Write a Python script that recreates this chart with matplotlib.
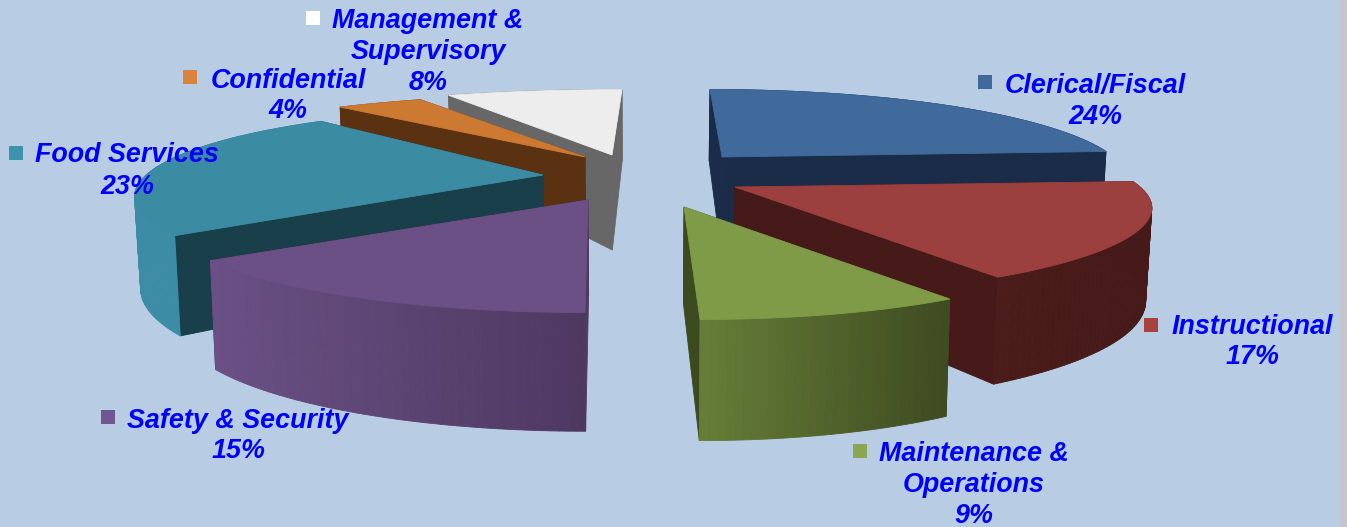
import numpy as np
import matplotlib
matplotlib.use("Agg")
import matplotlib.pyplot as plt
from matplotlib.patches import Polygon, Rectangle
from matplotlib.colors import to_rgb

categories = ["Clerical/Fiscal", "Instructional", "Maintenance &\nOperations",
              "Safety & Security", "Food Services", "Confidential",
              "Management &\nSupervisory"]
shares = [24, 17, 9, 15, 23, 4, 8]

top_colors = ["#3F6A9B", "#9C3F3F", "#7F9B47", "#6A5085", "#3B8CA3", "#CC7A32", "#EDEDED"]
key_colors = ["#3F6A9B", "#A8423F", "#8BA651", "#70578F", "#3E93AC", "#D8843F", "#FFFFFF"]
radial_colors = ["#1A2C47", "#451A18", "#3C4A20", "#503A62", "#193F4A", "#5A3212", "#676767"]
outer_left = ["#1A2C47", "#4A1C1A", "#667E38", "#6A5085", "#3D8CA5", "#5A3212", "#676767"]
outer_right = ["#1A2C47", "#451A18", "#3E4A20", "#4E3860", "#3D8CA5", "#5A3212", "#676767"]
draw_order = [6, 5, 0, 4, 1, 2, 3]

BACKGROUND = "#B8CCE4"
CX, CY = 640.0, 180.0
RX, RY = 405.0, 90.0
PERSPECTIVE = 0.25
DEPTH = 95.0
# Layout of the exploded slices: screen offset of each apex from the pie centre,
# lean of the straight-down direction, and per-slice stretch of width, height and wall depth.
slice_offsets = [(82, -23), (95, 7), (44, 27), (-52, 20), (-97, -5), (-55, -23), (-28, -25)]
slice_lean = [48, 0, 64, -12, 0, 0, -40]
slice_width = [0.967, 1.0, 0.96, 1.0, 0.98, 1.08, 1.13]
slice_height = [1.0, 0.98, 1.0, 1.0, 1.0, 0.93, 0.97]
slice_depth = [1.0, 0.93, 1.02, 1.0, 0.92, 1.0, 1.0]

label_centers = [(1095, 101), (1252, 342), (974, 485), (238, 436), (127, 171), (288, 96), (428, 52)]
key_centers = [(985, 82), (1151, 325), (860, 451), (108, 417), (16, 153), (190, 77), (313, 18)]

fig = plt.figure(figsize=(13.47, 5.27), dpi=100, facecolor=BACKGROUND)
ax = fig.add_axes([0, 0, 1, 1])
ax.set_xlim(0, 1347)
ax.set_ylim(527, 0)
ax.axis("off")


def project(index, angle, radius, lower=False):
    """Canvas position of a polar point of one slice; angle runs clockwise from north."""
    x = radius * np.sin(angle)
    y = -radius * np.cos(angle)
    scale = 1.0 + PERSPECTIVE * y
    ox, oy = slice_offsets[index]
    px = CX + ox + RX * slice_width[index] * x * scale + slice_lean[index] * (scale - 1.0)
    py = CY + oy + RY * slice_height[index] * y * scale
    if lower:
        px -= 0.012 * (px - CX)
        py += DEPTH * slice_depth[index] * scale
    return px, py


def quad(points, color, z):
    ax.add_patch(Polygon(points, closed=True, facecolor=color, edgecolor=color,
                         linewidth=0.6, zorder=z))


fractions = np.array(shares, dtype=float) / sum(shares)
edges = np.concatenate([[0.0], np.cumsum(fractions)]) * 2 * np.pi

for rank, i in enumerate(draw_order):
    z = 2 + rank
    start, stop = edges[i], edges[i + 1]
    angles = np.linspace(start, stop, max(int(np.degrees(stop - start)), 6) + 1)
    left, right = np.array(to_rgb(outer_left[i])), np.array(to_rgb(outer_right[i]))
    xs = np.array([project(i, a, 1)[0] for a in angles])
    span = max(xs.max() - xs.min(), 1.0)

    def strips(front):
        for a0, a1 in zip(angles[:-1], angles[1:]):
            facing = -np.cos((a0 + a1) / 2) > 0
            if facing != front:
                continue
            p0, p1 = project(i, a0, 1), project(i, a1, 1)
            t = ((p0[0] + p1[0]) / 2 - xs.min()) / span
            quad([p0, p1, project(i, a1, 1, True), project(i, a0, 1, True)],
                 tuple(left + (right - left) * t), z)

    strips(False)
    for a in sorted([start, stop], key=lambda v: project(i, v, 1)[1]):
        quad([project(i, 0, 0), project(i, a, 1), project(i, a, 1, True), project(i, 0, 0, True)],
             radial_colors[i], z)
    strips(True)
    quad([project(i, 0, 0)] + [project(i, a, 1) for a in angles], top_colors[i], z)

font = dict(family="Liberation Sans", weight="bold", style="italic", color="#0000FF",
            fontsize=19.35, ha="center", va="center", linespacing=1.25, zorder=30)
for name, share, centre, key, color in zip(categories, shares, label_centers, key_centers, key_colors):
    ax.text(centre[0], centre[1], f"{name}\n{share}%", **font)
    ax.add_patch(Rectangle((key[0] - 7, key[1] - 7), 14, 14, facecolor=color,
                           edgecolor="none", zorder=29))

# Grey strip along the right edge of the slide
ax.add_patch(Rectangle((1340, 0), 7, 527, facecolor="#C4C6CC", edgecolor="none", zorder=1))

fig.savefig("out.png", dpi=100, facecolor=BACKGROUND)
